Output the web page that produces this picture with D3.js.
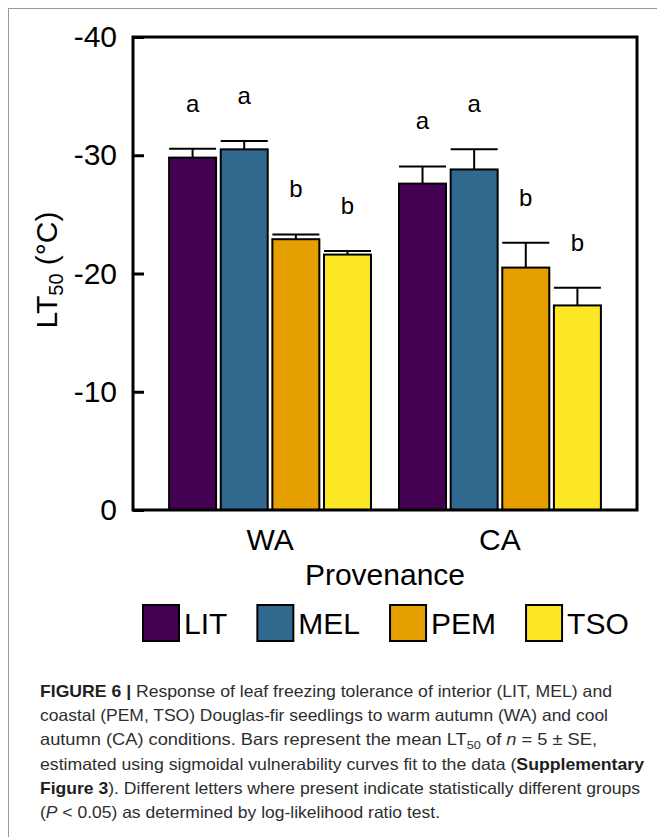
<!DOCTYPE html>
<html>
<head>
<meta charset="utf-8">
<script src="https://cdn.jsdelivr.net/npm/d3@7"></script>
<style>
  body { margin:0; background:#fff; }
  svg { display:block; font-family:"Liberation Sans", Arial, sans-serif; }
</style>
</head>
<body>
<div id="chart"></div>
<script>
// ---------------------------------------------------------------
// data
var groups = ["WA", "CA"];
var series = ["LIT", "MEL", "PEM", "TSO"];
var meanWA = [-29.8, -30.5, -22.9, -21.6];
var meanCA = [-27.6, -28.8, -20.5, -17.3];
var seWA = [0.75, 0.7, 0.4, 0.3];
var seCA = [1.45, 1.7, 2.1, 1.5];
var lettersWA = ["a", "a", "b", "b"];
var lettersCA = ["a", "a", "b", "b"];
var yTicks = [0, -10, -20, -30, -40];
var colors = ["#440154", "#31688e", "#e69f00", "#fde725"];

// ---------------------------------------------------------------
var width = 657, height = 837;
var plot = { left:133, right:637, top:37, bottom:510 };

var svg = d3.select("#chart").append("svg")
    .attr("width", width).attr("height", height);

svg.append("rect").attr("width", width).attr("height", height).attr("fill", "#fff");

// panel frame (only top and left are in view)
svg.append("rect")
    .attr("x", 8.5).attr("y", 8.5)
    .attr("width", 700).attr("height", 900)
    .attr("fill", "none").attr("stroke", "#9a9a9a").attr("stroke-width", 1);

// build rows from the arrays
var rows = [];
groups.forEach(function(g, gi) {
    var means = gi === 0 ? meanWA : meanCA;
    var ses = gi === 0 ? seWA : seCA;
    var lets = gi === 0 ? lettersWA : lettersCA;
    series.forEach(function(s, si) {
        rows.push({ group:g, series:s, i:si, value:means[si], se:ses[si], letter:lets[si] });
    });
});

var x0 = d3.scaleBand().domain(groups)
    .range([plot.left, plot.right])
    .paddingInner(0.122).paddingOuter(0.157);
var x1 = d3.scaleBand().domain(series)
    .range([0, x0.bandwidth()])
    .paddingInner(0.09).paddingOuter(0);
var y = d3.scaleLinear().domain([0, -40]).range([plot.bottom, plot.top]);
var color = d3.scaleOrdinal().domain(series).range(colors);

// bars
var bars = svg.append("g").attr("class", "bars");
bars.selectAll("rect").data(rows).enter().append("rect")
    .attr("x", function(d){ return x0(d.group) + x1(d.series); })
    .attr("y", function(d){ return y(d.value); })
    .attr("width", x1.bandwidth())
    .attr("height", function(d){ return y(0) - y(d.value); })
    .attr("fill", function(d){ return color(d.series); })
    .attr("stroke", "#000").attr("stroke-width", 2);

// error bars (upward only)
var err = svg.append("g").attr("class", "err")
    .attr("stroke", "#000").attr("stroke-width", 2);
err.selectAll("line.v").data(rows).enter().append("line").attr("class", "v")
    .attr("x1", function(d){ return x0(d.group) + x1(d.series) + x1.bandwidth()/2; })
    .attr("x2", function(d){ return x0(d.group) + x1(d.series) + x1.bandwidth()/2; })
    .attr("y1", function(d){ return y(d.value); })
    .attr("y2", function(d){ return y(d.value - d.se); });
err.selectAll("line.cap").data(rows).enter().append("line").attr("class", "cap")
    .attr("x1", function(d){ return x0(d.group) + x1(d.series); })
    .attr("x2", function(d){ return x0(d.group) + x1(d.series) + x1.bandwidth(); })
    .attr("y1", function(d){ return y(d.value - d.se); })
    .attr("y2", function(d){ return y(d.value - d.se); });

// significance letters
svg.append("g").selectAll("text").data(rows).enter().append("text")
    .attr("x", function(d){ return x0(d.group) + x1(d.series) + x1.bandwidth()/2; })
    .attr("y", function(d){ return y(d.value - d.se) - 37; })
    .attr("text-anchor", "middle")
    .style("font-size", "24px")
    .text(function(d){ return d.letter; });

// y axis, ticks inside
var yAxis = svg.append("g")
    .attr("transform", "translate(" + plot.left + ",0)")
    .call(d3.axisLeft(y).tickValues(yTicks).tickSize(-11).tickPadding(16)
        .tickFormat(function(d){ return String(d); }));
yAxis.select(".domain").remove();
yAxis.selectAll(".tick line").attr("stroke-width", 3);
yAxis.selectAll("text").style("font-size", "30px").attr("fill", "#000")
    .style("font-family", "'Liberation Sans', Arial, sans-serif");

// x axis
var xAxis = svg.append("g")
    .attr("transform", "translate(0," + plot.bottom + ")")
    .call(d3.axisBottom(x0).tickSize(0).tickPadding(19));
xAxis.select(".domain").remove();
xAxis.selectAll("text").style("font-size", "30px").attr("fill", "#000")
    .style("font-family", "'Liberation Sans', Arial, sans-serif");

// plot box
svg.append("rect")
    .attr("x", plot.left).attr("y", plot.top)
    .attr("width", plot.right - plot.left).attr("height", plot.bottom - plot.top)
    .attr("fill", "none").attr("stroke", "#000").attr("stroke-width", 3);

// axis titles
svg.append("text")
    .attr("x", (plot.left + plot.right)/2).attr("y", 585)
    .attr("text-anchor", "middle").style("font-size", "30px")
    .text("Provenance");

var yl = svg.append("text")
    .attr("transform", "translate(57,270) rotate(-90)")
    .attr("text-anchor", "middle").style("font-size", "30px");
yl.append("tspan").text("LT");
yl.append("tspan").attr("dy", 6).style("font-size", "20px").text("50");
yl.append("tspan").attr("dy", -6).text(" (\u00B0C)");

// legend
var lx = 143;
series.forEach(function(s, i) {
    var gl = svg.append("g").attr("transform", "translate(" + lx + ",605)");
    gl.append("rect").attr("x", 0).attr("y", 0).attr("width", 36).attr("height", 36)
        .attr("fill", color(s)).attr("stroke", "#000").attr("stroke-width", 2);
    var t = gl.append("text").attr("x", 41).attr("y", 29)
        .style("font-size", "30px").text(s);
    lx += 41 + t.node().getComputedTextLength() + 30;
});

// caption
var capLines = [
    { len:572, parts:[["FIGURE 6 | ", "b"], ["Response of leaf freezing tolerance of interior (LIT, MEL) and", ""]] },
    { len:568, parts:[["coastal (PEM, TSO) Douglas-fir seedlings to warm autumn (WA) and cool", ""]] },
    { len:557, parts:[["autumn (CA) conditions. Bars represent the mean LT", ""], ["50", "sub"], [" of ", ""], ["n", "i"], [" = 5 \u00B1 SE,", ""]] },
    { len:604, parts:[["estimated using sigmoidal vulnerability curves fit to the data (", ""], ["Supplementary", "b"]] },
    { len:600, parts:[["Figure 3", "b"], ["). Different letters where present indicate statistically different groups", ""]] },
    { len:400, parts:[["(", ""], ["P", "i"], [" < 0.05) as determined by log-likelihood ratio test.", ""]] }
];
capLines.forEach(function(line, li) {
    var t = svg.append("text")
        .attr("x", 40).attr("y", 697 + li*24.2)
        .attr("textLength", line.len).attr("lengthAdjust", "spacingAndGlyphs")
        .style("font-size", "16.5px").attr("fill", "#2e2e2e");
    line.parts.forEach(function(p, k) {
        var ts = t.append("tspan").text(p[0]);
        if (p[1] === "b") ts.style("font-weight", "bold").attr("fill", "#1e1e1e");
        if (p[1] === "i") ts.style("font-style", "italic");
        if (p[1] === "sub") ts.attr("dy", 4).style("font-size", "11.5px");
        if (k > 0 && line.parts[k-1][1] === "sub") ts.attr("dy", -4);
    });
});
</script>
</body>
</html>
